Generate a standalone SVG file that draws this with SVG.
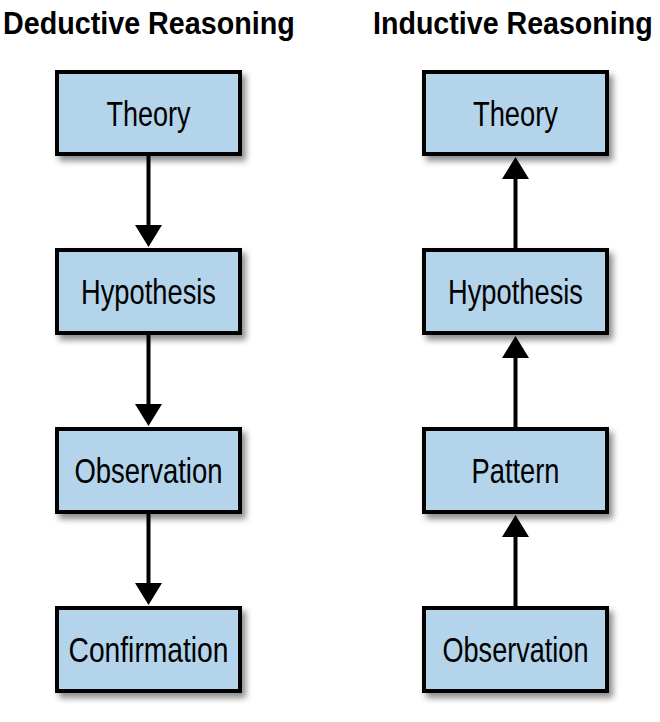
<svg xmlns="http://www.w3.org/2000/svg" width="660" height="722" viewBox="0 0 660 722">
  <style>
    .box { fill: #b3d4ea; stroke: #000; stroke-width: 4; filter: url(#shadow); }
    .label { font-family: "Liberation Sans", Arial, sans-serif; font-size: 35px; fill: #000; text-anchor: middle; }
    .title { font-family: "Liberation Sans", Arial, sans-serif; font-weight: bold; font-size: 32px; fill: #000; }
    .conn { stroke: #000; stroke-width: 4; fill: none; marker-end: url(#arrow); }
  </style>
  <defs>
    <filter id="shadow" x="-20%" y="-20%" width="150%" height="160%">
      <feDropShadow dx="4" dy="5" stdDeviation="3" flood-color="#000" flood-opacity="0.45"/>
    </filter>
    <marker id="arrow" markerUnits="userSpaceOnUse" markerWidth="23" markerHeight="28" refX="0" refY="13.5" orient="auto" overflow="visible">
      <path d="M0,0 L22,13.5 L0,27 Z" fill="#000"/>
    </marker>
  </defs>
  <rect width="660" height="722" fill="#fff"/>

  <text class="title" transform="translate(3,34) scale(0.897,1)">Deductive Reasoning</text>
  <text class="title" transform="translate(373,34) scale(0.894,1)">Inductive Reasoning</text>

  <g id="connectors">
    <line class="conn" x1="148.5" y1="156" x2="148.5" y2="225"/>
    <line class="conn" x1="148.5" y1="335" x2="148.5" y2="404"/>
    <line class="conn" x1="148.5" y1="514" x2="148.5" y2="583"/>
    <line class="conn" x1="515.5" y1="248" x2="515.5" y2="179"/>
    <line class="conn" x1="515.5" y1="427" x2="515.5" y2="358"/>
    <line class="conn" x1="515.5" y1="606" x2="515.5" y2="537"/>
  </g>

  <g id="d-theory">
    <rect class="box" x="57" y="72" width="183" height="82"/>
    <text class="label" x="148.5" y="125.5" textLength="84" lengthAdjust="spacingAndGlyphs">Theory</text>
  </g>
  <g id="d-hypothesis">
    <rect class="box" x="57" y="250" width="183" height="83"/>
    <text class="label" x="148.5" y="304" textLength="135" lengthAdjust="spacingAndGlyphs">Hypothesis</text>
  </g>
  <g id="d-observation">
    <rect class="box" x="57" y="429" width="183" height="83"/>
    <text class="label" x="148.5" y="482.5" textLength="148" lengthAdjust="spacingAndGlyphs">Observation</text>
  </g>
  <g id="d-confirmation">
    <rect class="box" x="57" y="608" width="183" height="83"/>
    <text class="label" x="148.5" y="661.5" textLength="160" lengthAdjust="spacingAndGlyphs">Confirmation</text>
  </g>

  <g id="i-theory">
    <rect class="box" x="424" y="72" width="183" height="82"/>
    <text class="label" x="515.5" y="125.5" textLength="85" lengthAdjust="spacingAndGlyphs">Theory</text>
  </g>
  <g id="i-hypothesis">
    <rect class="box" x="424" y="250" width="183" height="83"/>
    <text class="label" x="515.5" y="304" textLength="135" lengthAdjust="spacingAndGlyphs">Hypothesis</text>
  </g>
  <g id="i-pattern">
    <rect class="box" x="424" y="429" width="183" height="83"/>
    <text class="label" x="515.5" y="482.5" textLength="88" lengthAdjust="spacingAndGlyphs">Pattern</text>
  </g>
  <g id="i-observation">
    <rect class="box" x="424" y="608" width="183" height="83"/>
    <text class="label" x="515.5" y="661.5" textLength="146" lengthAdjust="spacingAndGlyphs">Observation</text>
  </g>
</svg>
